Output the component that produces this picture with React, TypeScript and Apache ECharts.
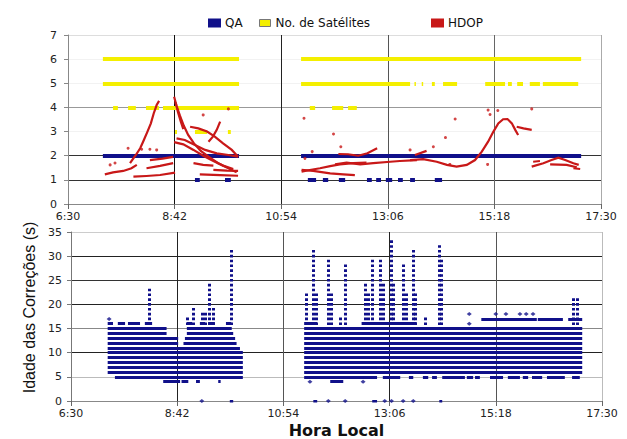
import React, { useEffect, useRef } from "react";
import * as echarts from "echarts";

// ---------- data (hours in decimal local time) ----------
const timeTicks = ["6:30", "8:42", "10:54", "13:06", "15:18", "17:30"];

// [value, fromHour, toHour]
const satSegments: [number, number, number][] = [
  [6, 7.22, 10.03], [6, 11.31, 17.09],
  [5, 7.22, 10.03], [5, 11.31, 13.56], [5, 13.65, 13.68], [5, 13.8, 13.83], [5, 14.01, 14.07],
  [5, 14.24, 14.53], [5, 15.11, 15.52], [5, 15.58, 15.66], [5, 15.77, 15.89], [5, 16.03, 16.24], [5, 16.3, 17.03],
  [4, 7.43, 7.53], [4, 7.74, 7.9], [4, 8.11, 8.38], [4, 8.46, 10.03],
  [4, 11.49, 11.6], [4, 11.95, 12.18], [4, 12.28, 12.46],
  [3, 8.71, 8.75], [3, 9.12, 9.37], [3, 9.8, 9.86],
];

const qaSegments: [number, number, number][] = [
  [2, 7.22, 10.03], [2, 11.31, 17.09],
  [1, 9.12, 9.22], [1, 9.74, 9.86], [1, 11.45, 11.62], [1, 11.76, 11.87], [1, 12.09, 12.22],
  [1, 12.67, 12.77], [1, 12.86, 12.96], [1, 13.06, 13.19], [1, 13.31, 13.41], [1, 13.56, 13.66], [1, 14.07, 14.22],
];

// HDOP traces: [hour, hdop]
const hdopCurves: [number, number][][] = [
  [[7.78, 1.69], [7.9, 2.03], [7.99, 2.31], [8.05, 2.58], [8.14, 3.0], [8.21, 3.34], [8.27, 3.76], [8.33, 4.1], [8.38, 4.27]],
  [[7.26, 1.23], [7.43, 1.31], [7.64, 1.37], [7.81, 1.48], [7.92, 1.62]],
  [[7.85, 1.13], [8.12, 1.16], [8.4, 1.2], [8.71, 1.3]],
  [[8.12, 1.48], [8.4, 1.58], [8.67, 1.69]],
  [[8.19, 1.82], [8.45, 1.88], [8.67, 1.95]],
  [[8.69, 4.44], [8.74, 4.07], [8.81, 3.66], [8.89, 3.24], [8.98, 2.86], [9.1, 2.51], [9.24, 2.2], [9.4, 1.96], [9.6, 1.69], [9.81, 1.48], [9.98, 1.31]],
  [[8.72, 4.2], [8.77, 3.8], [8.83, 3.4], [8.88, 3.1]],
  [[8.74, 2.72], [8.91, 2.65], [9.12, 2.44], [9.33, 2.24], [9.57, 2.1], [9.81, 2.03], [10.01, 1.96]],
  [[8.69, 2.56], [8.88, 2.47], [9.09, 2.24], [9.29, 2.0], [9.5, 1.78], [9.7, 1.59], [9.91, 1.45]],
  [[9.02, 3.2], [9.19, 3.13], [9.37, 3.0], [9.53, 2.79], [9.7, 2.51], [9.88, 2.24], [10.01, 1.96]],
  [[9.64, 3.41], [9.57, 3.07], [9.49, 2.79], [9.4, 2.58]],
  [[9.09, 1.69], [9.29, 1.62], [9.5, 1.59]],
  [[9.22, 1.23], [9.64, 1.2], [10.01, 1.17]],
  [[9.5, 1.41], [9.78, 1.38], [10.01, 1.37]],
  [[11.32, 1.41], [11.56, 1.37], [11.91, 1.27], [12.18, 1.23], [12.42, 1.2]],
  [[11.32, 1.34], [11.49, 1.41], [11.7, 1.48], [11.91, 1.57], [12.11, 1.64], [12.39, 1.69], [12.66, 1.71]],
  [[12.08, 2.07], [12.28, 2.06], [12.49, 2.0], [12.68, 2.1], [12.88, 2.31]],
  [[12.01, 1.64], [12.25, 1.71], [12.53, 1.64], [12.8, 1.69], [13.15, 1.75], [13.35, 1.78], [13.7, 1.82]],
  [[13.56, 1.82], [13.83, 1.86], [14.11, 1.75], [14.32, 1.62], [14.52, 1.55], [14.73, 1.62], [14.9, 1.82], [15.04, 2.17],
   [15.17, 2.58], [15.28, 3.0], [15.38, 3.34], [15.48, 3.51], [15.57, 3.52], [15.66, 3.34], [15.73, 3.07], [15.79, 2.86]],
  [[15.76, 3.2], [15.9, 3.13], [16.07, 3.07]],
  [[13.66, 2.03], [13.9, 2.2]],
  [[16.07, 1.55], [16.31, 1.69], [16.48, 1.82], [16.62, 1.92], [16.76, 1.82], [16.93, 1.69], [17.04, 1.62]],
  [[16.1, 1.75], [16.24, 1.78]],
  [[16.45, 1.64], [16.79, 1.62], [17.0, 1.52]],
  [[16.93, 1.48], [17.07, 1.45]],
];

const hdopDots: [number, number][] = [
  [7.37, 1.62], [7.47, 1.7], [7.74, 2.31], [8.02, 2.27], [8.19, 2.27], [8.33, 2.24], [9.29, 3.69], [9.81, 3.94],
  [11.37, 3.55], [11.39, 1.89], [11.54, 2.17], [11.98, 2.9], [12.13, 2.37], [13.56, 2.24], [14.04, 2.37], [14.29, 2.75],
  [14.49, 3.52], [14.38, 1.64], [15.16, 1.64], [15.17, 3.89], [15.37, 3.87], [15.21, 3.71], [16.07, 3.94],
];

// Age of corrections: rows [age s, fromHour, toHour]
const ageRows: [number, number, number][] = [
  [5, 7.41, 10.06], [6, 7.26, 10.06], [7, 7.26, 10.06], [8, 7.26, 10.06], [9, 7.26, 10.06], [10, 7.26, 10.06],
  [11, 7.26, 10.0], [12, 7.26, 8.72], [12, 8.83, 9.93], [13, 7.26, 8.72], [13, 8.86, 9.9],
  [14, 7.26, 8.48], [14, 8.9, 9.86], [15, 7.26, 8.48], [15, 8.9, 9.83],
  [16, 7.26, 7.37], [16, 7.47, 7.62], [16, 7.68, 7.93], [16, 8.03, 8.18], [16, 8.9, 9.01], [16, 9.17, 9.28], [16, 9.34, 9.48], [16, 9.71, 9.82],
  [4, 8.41, 8.76], [4, 8.79, 8.93], [4, 9.09, 9.17], [4, 9.55, 9.6],
  [5, 11.33, 12.84], [5, 12.96, 13.32], [5, 13.5, 13.59], [5, 13.79, 13.9], [5, 13.98, 14.08], [5, 14.19, 14.66],
  [5, 14.7, 14.83], [5, 14.87, 14.97], [5, 15.18, 15.45], [5, 15.55, 15.8], [5, 15.86, 15.97], [5, 16.05, 16.26],
  [5, 16.36, 16.73], [5, 16.88, 17.04],
  [6, 11.33, 17.09], [7, 11.33, 17.09], [8, 11.33, 17.09], [9, 11.33, 17.09], [10, 11.33, 17.09],
  [11, 11.33, 17.09], [12, 11.33, 17.09], [13, 11.33, 17.09], [14, 11.33, 17.09], [15, 11.33, 17.09],
  [16, 11.33, 11.6], [16, 12.52, 13.66], [17, 15.0, 16.15], [17, 16.17, 16.69], [17, 16.8, 17.09],
  [4, 11.87, 12.14],
  [0, 9.79, 9.86], [0, 11.52, 11.6], [0, 12.74, 12.84], [0, 14.13, 14.19],
];

// spikes: [hour, highest age], a column of readings from 16 s upward
const ageSpikes: [number, number][] = [
  [8.12, 23], [8.9, 17], [9.03, 19], [9.21, 18], [9.28, 18], [9.37, 24], [9.45, 19], [9.81, 31],
  [11.38, 22], [11.51, 31], [11.58, 22], [11.83, 29], [11.89, 22], [12.07, 17], [12.19, 28], [12.59, 24],
  [12.65, 22], [12.75, 29], [12.9, 29], [12.96, 24], [13.14, 33], [13.18, 24], [13.38, 28], [13.44, 22],
  [13.59, 31], [13.63, 22], [13.83, 17], [14.13, 32], [14.18, 29], [16.91, 21], [16.98, 21],
];

// single readings: [hour, age]
const ageDots: [number, number][] = [
  [7.29, 17], [9.21, 0], [11.45, 4], [12.55, 4], [11.83, 0], [12.18, 0], [13.0, 0], [13.14, 0], [13.38, 0],
  [13.59, 0], [14.75, 16], [14.75, 18], [15.3, 18], [15.51, 18], [15.8, 18], [15.93, 18], [16.07, 18],
];

// ---------- chart ----------
const NAVY = "#10108a";
const YELLOW = "#f4ef00";
const RED = "#c81818";
const FONT = "'DejaVu Sans', sans-serif";
const X = (h: number) => (h - 6.5) * 60;

const TOP = { left: 68, top: 35, width: 533, height: 169 };
const BOT = { left: 71, top: 232, width: 531, height: 169 };

function xAxis(gridIndex: number, colors: string[], extra: any = {}) {
  return {
    type: "value", gridIndex, min: 0, max: 660, interval: 132,
    axisLine: { show: true, lineStyle: { color: "#888", width: 1 } },
    axisTick: { show: true, length: 5, lineStyle: { color: "#666" } },
    axisLabel: {
      formatter: (v: number) => timeTicks[Math.round(v / 132)],
      color: "#222", fontSize: 11, fontFamily: FONT, margin: 7,
    },
    splitLine: { show: true, lineStyle: { color: colors, width: 1 } },
    ...extra,
  };
}

function buildOption() {
  const unit = BOT.height / 35;
  const seg = (arr: [number, number, number][]) =>
    arr.map(([v, a, b]) => ({ coords: [[X(a), v], [X(b), v]] }));
  return {
    animation: false,
    backgroundColor: "#fff",
    legend: [
      { data: [{ name: "QA", itemStyle: { color: NAVY } }], left: 203, top: 12, icon: "rect", itemWidth: 11, itemHeight: 7,
        textStyle: { fontFamily: FONT, fontSize: 12, color: "#111" } },
      { data: [{ name: "No. de Satélites", itemStyle: { color: YELLOW, borderColor: "#777", borderWidth: 1 } }], left: 254, top: 12,
        icon: "rect", itemWidth: 11, itemHeight: 7, textStyle: { fontFamily: FONT, fontSize: 12, color: "#111" } },
      { data: [{ name: "HDOP", itemStyle: { color: RED } }], left: 426, top: 12, icon: "rect", itemWidth: 11, itemHeight: 7,
        textStyle: { fontFamily: FONT, fontSize: 12, color: "#111" } },
    ],
    grid: [
      { ...TOP, containLabel: false },
      { ...BOT, containLabel: false },
    ],
    xAxis: [
      xAxis(0, ["#999", "#111", "#222", "#555", "#666", "#aaa"]),
      xAxis(1, ["#999", "#222", "#555", "#222", "#555", "#bbb"], {
        name: "Hora Local", nameLocation: "middle", nameGap: 21,
        nameTextStyle: { fontFamily: FONT, fontWeight: "bold", fontSize: 16, color: "#111" },
      }),
    ],
    yAxis: [
      {
        type: "value", gridIndex: 0, min: 0, max: 7, interval: 1,
        axisLine: { show: true, lineStyle: { color: "#888" } },
        axisTick: { show: true, length: 4, lineStyle: { color: "#888" } },
        axisLabel: { color: "#222", fontSize: 11, fontFamily: FONT, margin: 11 },
        splitLine: { show: true, lineStyle: { color: ["#999", "#333", "#333", "#f2f2f2", "#999", "#f2f2f2", "#f2f2f2", "#ddd"] } },
      },
      {
        type: "value", gridIndex: 1, min: 0, max: 35, interval: 5,
        axisLine: { show: true, lineStyle: { color: "#777" } },
        axisTick: { show: true, length: 4, lineStyle: { color: "#777" } },
        axisLabel: { color: "#222", fontSize: 11, fontFamily: FONT, margin: 9 },
        splitLine: { show: true, lineStyle: { color: ["#999", "#bbb", "#222", "#888", "#222", "#333", "#222", "#ccc"] } },
        name: "Idade das Correções (s)", nameLocation: "middle", nameRotate: 90, nameGap: 34,
        nameTextStyle: { fontFamily: "'Liberation Sans', Arial, sans-serif", fontSize: 16, color: "#111", padding: [0, 0, 0, 18] },
      },
    ],
    series: [
      {
        name: "No. de Satélites", type: "lines", coordinateSystem: "cartesian2d", xAxisIndex: 0, yAxisIndex: 0,
        data: seg(satSegments), lineStyle: { color: YELLOW, width: 4, opacity: 1, cap: "butt" }, itemStyle: { color: YELLOW }, z: 3,
      },
      {
        name: "QA", type: "lines", coordinateSystem: "cartesian2d", xAxisIndex: 0, yAxisIndex: 0,
        data: seg(qaSegments), lineStyle: { color: NAVY, width: 4, opacity: 1, cap: "butt" }, itemStyle: { color: NAVY }, z: 4,
      },
      {
        name: "HDOP", type: "lines", coordinateSystem: "cartesian2d", xAxisIndex: 0, yAxisIndex: 0, polyline: true,
        data: hdopCurves.map((c) => ({ coords: c.map(([h, v]) => [X(h), v]) })),
        lineStyle: { color: RED, width: 2.2, opacity: 1 }, itemStyle: { color: RED }, z: 5,
      },
      {
        name: "HDOP", type: "scatter", xAxisIndex: 0, yAxisIndex: 0, symbol: "circle", symbolSize: 3,
        data: hdopDots.map(([h, v]) => [X(h), v]), itemStyle: { color: RED }, z: 5,
      },
      {
        name: "Idade", type: "lines", coordinateSystem: "cartesian2d", xAxisIndex: 1, yAxisIndex: 1,
        data: seg(ageRows), lineStyle: { color: NAVY, width: 3, opacity: 1, cap: "butt" },
      },
      {
        name: "Idade", type: "lines", coordinateSystem: "cartesian2d", xAxisIndex: 1, yAxisIndex: 1,
        data: ageSpikes.map(([h, top]) => ({ coords: [[X(h), top + 0.27], [X(h), 15.7]] })),
        lineStyle: { color: NAVY, width: 3, opacity: 1, type: [2.6, unit - 2.6], cap: "butt" },
      },
      {
        name: "Idade", type: "scatter", xAxisIndex: 1, yAxisIndex: 1, symbol: "diamond", symbolSize: [5, 4],
        data: ageDots.map(([h, a]) => [X(h), a]), itemStyle: { color: NAVY },
      },
    ],
  };
}

export default function App() {
  const ref = useRef<HTMLDivElement>(null);
  useEffect(() => {
    if (!ref.current) return;
    const chart = echarts.init(ref.current, null, { renderer: "svg" });
    chart.setOption(buildOption() as any);
    return () => chart.dispose();
  }, []);
  return (
    <div
      ref={ref}
      style={{ position: "fixed", left: 0, top: 0, width: 627, height: 439, background: "#fff" }}
    />
  );
}
